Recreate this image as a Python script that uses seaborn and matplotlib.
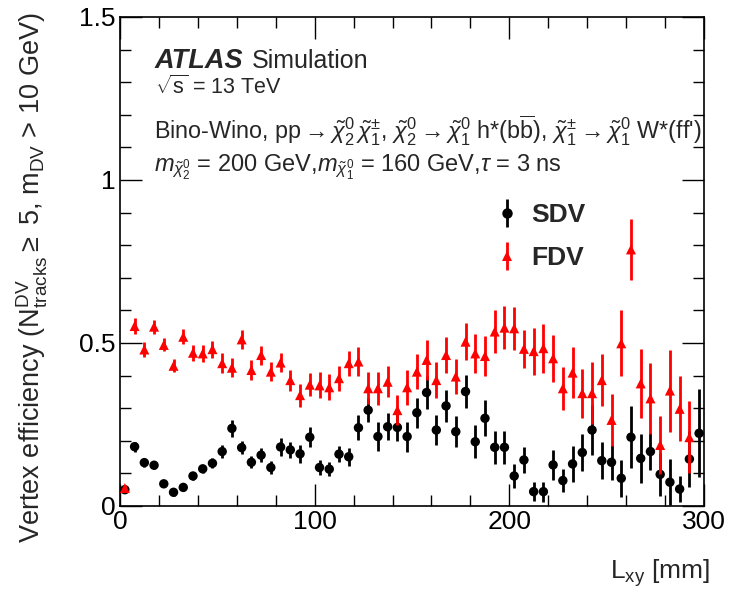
import numpy as np
import pandas as pd
import matplotlib
matplotlib.use("Agg")
import matplotlib.pyplot as plt
from matplotlib.lines import Line2D
from matplotlib.ticker import MultipleLocator
import seaborn as sns

# Bin centres of the transverse decay length [mm]
lxy = [2.5, 7.5, 12.5, 17.5, 22.5, 27.5, 32.5, 37.5, 42.5, 47.5,
       52.5, 57.5, 62.5, 67.5, 72.5, 77.5, 82.5, 87.5, 92.5, 97.5,
       102.5, 107.5, 112.5, 117.5, 122.5, 127.5, 132.5, 137.5, 142.5, 147.5,
       152.5, 157.5, 162.5, 167.5, 172.5, 177.5, 182.5, 187.5, 192.5, 197.5,
       202.5, 207.5, 212.5, 217.5, 222.5, 227.5, 232.5, 237.5, 242.5, 247.5,
       252.5, 257.5, 262.5, 267.5, 272.5, 277.5, 282.5, 287.5, 292.5, 297.5]

sdv_eff = [0.050, 0.182, 0.133, 0.125, 0.068, 0.042, 0.057, 0.092, 0.114, 0.131,
           0.167, 0.238, 0.179, 0.134, 0.156, 0.118, 0.181, 0.172, 0.160, 0.211,
           0.118, 0.113, 0.159, 0.151, 0.240, 0.294, 0.213, 0.243, 0.241, 0.213,
           0.286, 0.348, 0.233, 0.307, 0.228, 0.351, 0.197, 0.269, 0.180, 0.180,
           0.092, 0.141, 0.044, 0.044, 0.126, 0.078, 0.129, 0.164, 0.233, 0.139,
           0.134, 0.085, 0.211, 0.146, 0.167, 0.097, 0.073, 0.052, 0.144, 0.223]
sdv_err = [0.010, 0.015, 0.012, 0.012, 0.010, 0.010, 0.010, 0.012, 0.013, 0.015,
           0.020, 0.027, 0.020, 0.018, 0.022, 0.020, 0.027, 0.025, 0.027, 0.030,
           0.022, 0.022, 0.025, 0.028, 0.038, 0.037, 0.044, 0.041, 0.043, 0.046,
           0.046, 0.050, 0.046, 0.050, 0.047, 0.051, 0.050, 0.055, 0.051, 0.051,
           0.036, 0.041, 0.030, 0.031, 0.047, 0.036, 0.054, 0.056, 0.077, 0.056,
           0.054, 0.056, 0.095, 0.074, 0.056, 0.066, 0.070, 0.040, 0.087, 0.135]

fdv_eff = [0.055, 0.552, 0.480, 0.550, 0.494, 0.430, 0.519, 0.470, 0.468, 0.481,
           0.438, 0.424, 0.511, 0.417, 0.463, 0.412, 0.440, 0.386, 0.340, 0.372,
           0.370, 0.364, 0.392, 0.438, 0.443, 0.361, 0.361, 0.381, 0.294, 0.364,
           0.412, 0.448, 0.386, 0.463, 0.397, 0.504, 0.468, 0.460, 0.535, 0.547,
           0.545, 0.482, 0.475, 0.484, 0.453, 0.361, 0.409, 0.346, 0.346, 0.386,
           0.264, 0.499, 0.787, 0.376, 0.330, 0.187, 0.354, 0.298, 0.211, np.nan]
fdv_err = [0.010, 0.025, 0.023, 0.021, 0.020, 0.020, 0.023, 0.025, 0.026, 0.026,
           0.030, 0.029, 0.030, 0.030, 0.029, 0.030, 0.030, 0.032, 0.035, 0.035,
           0.040, 0.040, 0.038, 0.038, 0.045, 0.049, 0.051, 0.048, 0.045, 0.054,
           0.053, 0.061, 0.056, 0.056, 0.054, 0.056, 0.059, 0.061, 0.067, 0.065,
           0.066, 0.059, 0.072, 0.075, 0.072, 0.066, 0.079, 0.075, 0.096, 0.079,
           0.080, 0.101, 0.093, 0.106, 0.110, 0.088, 0.126, 0.100, 0.110, np.nan]

series_names = ["SDV", "FDV"]
series_colors = {"SDV": "black", "FDV": "#ff0000"}
series_markers = {"SDV": "o", "FDV": "^"}

sns.set_theme(style="ticks")
plt.rcParams["font.family"] = ["Liberation Sans", "DejaVu Sans"]
plt.rcParams["mathtext.fontset"] = "custom"
plt.rcParams["mathtext.rm"] = "Liberation Sans"
plt.rcParams["mathtext.it"] = "Liberation Sans:italic"
plt.rcParams["mathtext.bf"] = "Liberation Sans:bold"
plt.rcParams["mathtext.sf"] = "Liberation Sans"

df = pd.concat([
    pd.DataFrame({"lxy": lxy, "eff": sdv_eff, "err": sdv_err, "type": "SDV"}),
    pd.DataFrame({"lxy": lxy, "eff": fdv_eff, "err": fdv_err, "type": "FDV"}),
], ignore_index=True)

fig = plt.figure(figsize=(7.33, 5.92), dpi=100)
ax = fig.add_axes([0.1637, 0.1453, 0.7967, 0.826])

zorders = {"SDV": 3, "FDV": 4}
sizes = {"SDV": 46, "FDV": 52}
for name in series_names:
    sub = df[df["type"] == name].dropna()
    ax.errorbar(sub["lxy"], sub["eff"], yerr=sub["err"], fmt="none",
                ecolor=series_colors[name], elinewidth=2.0, capsize=0,
                zorder=zorders[name])
    sns.scatterplot(data=sub, x="lxy", y="eff", ax=ax,
                    color=series_colors[name], marker=series_markers[name],
                    s=sizes[name], linewidth=0, edgecolor="none",
                    zorder=zorders[name] + 0.5, legend=False)

ax.set_xlim(0, 300)
ax.set_ylim(0, 1.5)
ax.xaxis.set_minor_locator(MultipleLocator(20))
ax.yaxis.set_minor_locator(MultipleLocator(0.1))
ax.set_yticks([0, 0.5, 1.0, 1.5])
ax.set_yticklabels(["0", "0.5", "1", "1.5"])
ax.set_xticks([0, 100, 200, 300])
ax.set_xticklabels(["0", "100", "200", "300"])

ax.tick_params(which="both", direction="in", top=True, right=True,
               labelsize=19, colors="black", width=1.0)
ax.tick_params(axis="x", which="both", pad=3)
ax.tick_params(axis="y", which="both", pad=3)
ax.tick_params(which="major", length=16)
ax.tick_params(which="minor", length=8)
for sp in ax.spines.values():
    sp.set_linewidth(1.2)
    sp.set_color("black")

ax.set_xlabel(r"L$_{\mathrm{xy}}$ [mm]", fontsize=19, ha="right")
ax.xaxis.set_label_coords(1.01, -0.105)
ax.set_ylabel(r"Vertex efficiency (N$^{\mathrm{DV}}_{\mathrm{tracks}}$$\geq$ 5, m$_{\mathrm{DV}}$ > 10 GeV)",
              fontsize=19.5, ha="right")
ax.yaxis.set_label_coords(-0.12, 1.01)

# Labels
ax.text(0.06, 0.895, "ATLAS", transform=ax.transAxes, fontsize=19.5,
        fontweight="bold", fontstyle="italic", ha="left", va="baseline")
ax.text(0.225, 0.895, "Simulation", transform=ax.transAxes, fontsize=18,
        ha="left", va="baseline")
ax.text(0.06, 0.843, r"$\sqrt{\mathrm{s}}$ = 13 TeV", transform=ax.transAxes,
        fontsize=15.5, ha="left", va="baseline")
ax.text(0.058, 0.75,
        r"Bino-Wino, pp$\rightarrow\tilde{\chi}^{0}_{2}\,\tilde{\chi}^{\pm}_{1}$, "
        r"$\tilde{\chi}^{0}_{2}\rightarrow\tilde{\chi}^{0}_{1}$ h*(b$\overline{\mathrm{b}}$), "
        r"$\tilde{\chi}^{\pm}_{1}\rightarrow\tilde{\chi}^{0}_{1}$ W*(ff')",
        transform=ax.transAxes, fontsize=16.8, ha="left", va="baseline")
ax.text(0.058, 0.683,
        r"$m_{\tilde{\chi}^{0}_{2}}$ = 200 GeV,$m_{\tilde{\chi}^{0}_{1}}$ = 160 GeV,$\tau$ = 3 ns",
        transform=ax.transAxes, fontsize=17, ha="left", va="baseline")

handles = []
for name in series_names:
    bar = Line2D([], [], color=series_colors[name], marker="|", ls="none",
                 markersize=20, markeredgewidth=2.0)
    mk = Line2D([], [], color=series_colors[name], marker=series_markers[name],
                ls="none", markersize=7.5, markeredgewidth=0)
    handles.append((bar, mk))
ax.legend(handles, series_names, loc="upper left", bbox_to_anchor=(0.613, 0.647),
          frameon=False, prop={"weight": "bold", "size": 19},
          handlelength=1.2, handletextpad=0.3, labelspacing=0.72, borderpad=0)

fig.savefig("out.png", dpi=100)
